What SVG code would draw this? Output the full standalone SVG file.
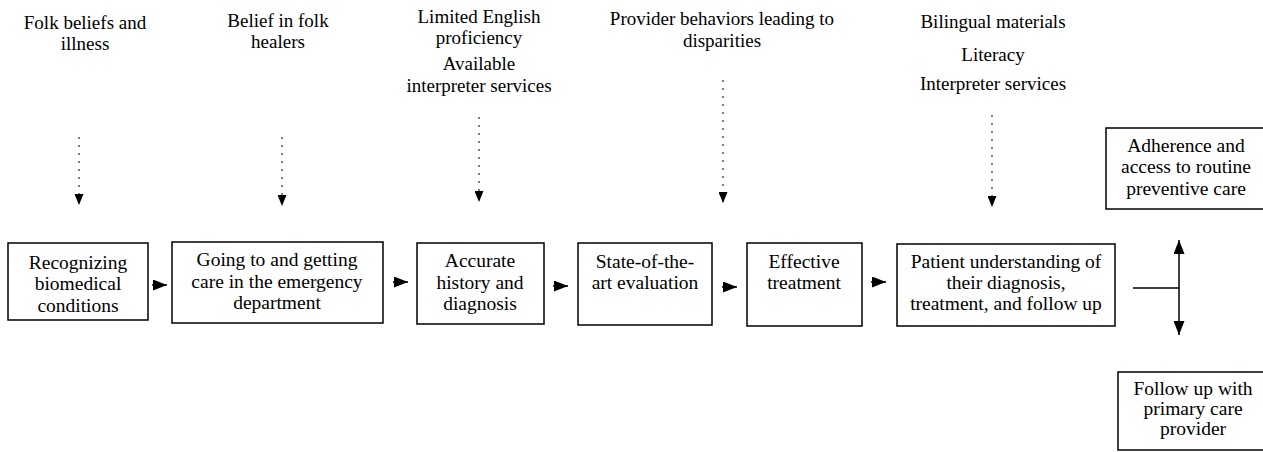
<svg xmlns="http://www.w3.org/2000/svg" width="1263" height="452" viewBox="0 0 1263 452">
<style>
  text { font-family: "Liberation Serif", "Times New Roman", serif; font-size: 19px; fill: #000; text-anchor: middle; }
  .bx { font-size: 19.5px; }
  .box { fill: #fff; stroke: #000; stroke-width: 1.5; }
  .flow { stroke: #000; stroke-width: 1.5; fill: none; }
  .dot { stroke: #000; stroke-width: 1; stroke-dasharray: 2 6; fill: none; }
</style>
<defs>
  <marker id="head" markerUnits="userSpaceOnUse" markerWidth="14" markerHeight="11" viewBox="0 0 14 11" refX="14" refY="5.5" orient="auto-start-reverse">
    <path d="M0,0 L14,5.5 L0,11 z" fill="#000"/>
  </marker>
  <marker id="dhead" markerUnits="userSpaceOnUse" markerWidth="11" markerHeight="9" viewBox="0 0 11 9" refX="11" refY="4.5" orient="auto">
    <path d="M0,0 L11,4.5 L0,9 z" fill="#000"/>
  </marker>
</defs>
<rect width="1263" height="452" fill="#fff"/>

<g id="factors">
  <g id="f1"><text x="85" y="29">Folk beliefs and</text><text x="85" y="50">illness</text></g>
  <g id="f2"><text x="278" y="27">Belief in folk</text><text x="278" y="48">healers</text></g>
  <g id="f3"><text x="479" y="23">Limited English</text><text x="479" y="44">proficiency</text><text x="479" y="70">Available</text><text x="479" y="92">interpreter services</text></g>
  <g id="f4"><text x="722" y="25">Provider behaviors leading to</text><text x="722" y="47">disparities</text></g>
  <g id="f5"><text x="993" y="28">Bilingual materials</text><text x="993" y="61">Literacy</text><text x="993" y="90">Interpreter services</text></g>
</g>

<g id="n1" class="bx"><rect class="box" x="8" y="243" width="140" height="77"/><text class="bx" x="78" y="269">Recognizing</text><text class="bx" x="78" y="290">biomedical</text><text class="bx" x="78" y="312">conditions</text></g>
<g id="n2"><rect class="box" x="172" y="242" width="211" height="81"/><text class="bx" x="277" y="266">Going to and getting</text><text class="bx" x="277" y="288">care in the emergency</text><text class="bx" x="277" y="309">department</text></g>
<g id="n3"><rect class="box" x="417" y="243" width="127" height="81"/><text class="bx" x="480" y="267">Accurate</text><text class="bx" x="480" y="289">history and</text><text class="bx" x="480" y="310">diagnosis</text></g>
<g id="n4"><rect class="box" x="578" y="243" width="134" height="82"/><text class="bx" x="645" y="268">State-of-the-</text><text class="bx" x="645" y="289">art evaluation</text></g>
<g id="n5"><rect class="box" x="747" y="243" width="115" height="83"/><text class="bx" x="804" y="268">Effective</text><text class="bx" x="804" y="289">treatment</text></g>
<g id="n6"><rect class="box" x="897" y="244" width="218" height="82"/><text class="bx" x="1006" y="268">Patient understanding of</text><text class="bx" x="1006" y="289">their diagnosis,</text><text class="bx" x="1006" y="310">treatment, and follow up</text></g>
<g id="n7"><rect class="box" x="1106" y="128" width="170" height="81"/><text class="bx" x="1186" y="152">Adherence and</text><text class="bx" x="1186" y="173">access to routine</text><text class="bx" x="1186" y="195">preventive care</text></g>
<g id="n8"><rect class="box" x="1118" y="372" width="160" height="78"/><text class="bx" x="1193" y="395">Follow up with</text><text class="bx" x="1193" y="415">primary care</text><text class="bx" x="1193" y="435">provider</text></g>

<g id="connectors">
  <line class="dot" x1="79" y1="137" x2="79" y2="205" marker-end="url(#dhead)"/>
  <line class="dot" x1="282" y1="137" x2="282" y2="206" marker-end="url(#dhead)"/>
  <line class="dot" x1="479" y1="117" x2="479" y2="202" marker-end="url(#dhead)"/>
  <line class="dot" x1="723" y1="80" x2="723" y2="203" marker-end="url(#dhead)"/>
  <line class="dot" x1="992" y1="115" x2="992" y2="207" marker-end="url(#dhead)"/>
  <line class="flow" x1="152" y1="285" x2="167" y2="285" marker-end="url(#head)"/>
  <line class="flow" x1="393" y1="282" x2="408" y2="282" marker-end="url(#head)"/>
  <line class="flow" x1="553" y1="286" x2="568" y2="286" marker-end="url(#head)"/>
  <line class="flow" x1="722" y1="287" x2="737" y2="287" marker-end="url(#head)"/>
  <line class="flow" x1="871" y1="282" x2="886" y2="282" marker-end="url(#head)"/>
  <line class="flow" x1="1133" y1="288" x2="1179" y2="288"/>
  <line class="flow" x1="1179" y1="240" x2="1179" y2="335" marker-start="url(#head)" marker-end="url(#head)"/>
</g>
</svg>
